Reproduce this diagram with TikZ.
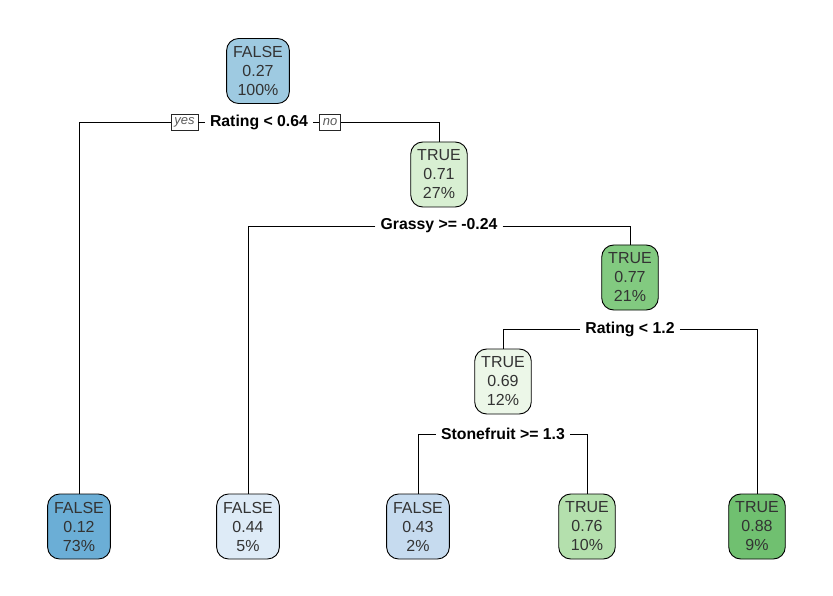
\documentclass[tikz,border=0pt]{standalone}
\usepackage{fontspec}
\setmainfont{Liberation Sans}
\usepackage{xcolor}
\usepackage{tikz}
\usetikzlibrary{positioning}
\definecolor{blueDeep}{RGB}{107,174,214}
\definecolor{blueMid}{RGB}{158,202,225}
\definecolor{blueSoft}{RGB}{198,219,239}
\definecolor{bluePale}{RGB}{222,235,247}
\definecolor{greenPale}{RGB}{236,247,232}
\definecolor{greenSoft}{RGB}{216,239,210}
\definecolor{greenLight}{RGB}{180,224,173}
\definecolor{greenMid}{RGB}{130,202,128}
\definecolor{greenDeep}{RGB}{112,192,112}
\tikzset{
  treebox/.style={
    rectangle, rounded corners=12pt, draw=black, line width=0.9pt,
    minimum height=65pt, inner xsep=6.5pt, align=center,
    font=\fontsize{16}{19}\selectfont, text=black!80
  },
  splitlbl/.style={font=\bfseries\fontsize{15.8}{18}\selectfont,
    inner xsep=5pt, inner ysep=1pt},
  yesno/.style={rectangle, draw=black!85, line width=0.6pt,
    font=\itshape\fontsize{13}{14}\selectfont, text=black!65,
    inner xsep=3.5pt, inner ysep=1pt, minimum height=16pt},
  branch/.style={draw=black, line width=0.8pt}
}
\begin{document}
\begin{tikzpicture}[x=1pt, y=-1pt]
  \useasboundingbox (0,0) rectangle (833,596);
  % inner nodes
  \node[treebox, fill=blueMid] (root) at (258,71) {FALSE\\0.27\\100\%};
  \node[treebox, fill=greenSoft] (n2) at (439,174.5) {TRUE\\0.71\\27\%};
  \node[treebox, fill=greenMid] (n3) at (630,277.5) {TRUE\\0.77\\21\%};
  \node[treebox, fill=greenPale] (n4) at (503,381.5) {TRUE\\0.69\\12\%};
  % leaves
  \node[treebox, fill=blueDeep] (l1) at (79,526.5) {FALSE\\0.12\\73\%};
  \node[treebox, fill=bluePale] (l2) at (248,526.5) {FALSE\\0.44\\5\%};
  \node[treebox, fill=blueSoft] (l3) at (418,526.5) {FALSE\\0.43\\2\%};
  \node[treebox, fill=greenLight] (l4) at (587,526.5) {TRUE\\0.76\\10\%};
  \node[treebox, fill=greenDeep] (l5) at (757,526.5) {TRUE\\0.88\\9\%};
  % split labels
  \node[splitlbl] (s1) at (259,122) {Rating < 0.64};
  \node[yesno] (yes) at (184.5,122) {yes};
  \node[yesno] (no) at (330,122) {no};
  \node[splitlbl] (s2) at (439,226) {Grassy >= -0.24};
  \node[splitlbl] (s3) at (630,329) {Rating < 1.2};
  \node[splitlbl] (s4) at (503,434) {Stonefruit >= 1.3};
  % branches
  \draw[branch] (yes.west) -| (l1.north);
  \draw[branch] (yes.east) -- (s1.west);
  \draw[branch] (s1.east) -- (no.west);
  \draw[branch] (no.east) -| (n2.north);
  \draw[branch] (s2.west) -| (l2.north);
  \draw[branch] (s2.east) -| (n3.north);
  \draw[branch] (s3.west) -| (n4.north);
  \draw[branch] (s3.east) -| (l5.north);
  \draw[branch] (s4.west) -| (l3.north);
  \draw[branch] (s4.east) -| (l4.north);
\end{tikzpicture}
\end{document}
